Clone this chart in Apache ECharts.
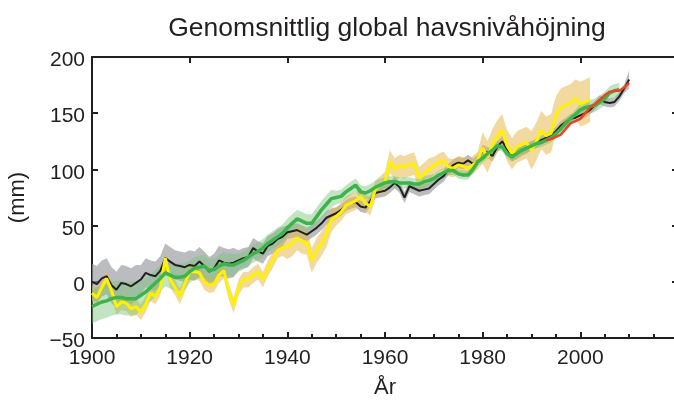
<!DOCTYPE html>
<html>
<head>
<meta charset="utf-8">
<script src="https://cdn.jsdelivr.net/npm/echarts@6/dist/echarts.min.js"></script>
<style>html,body{margin:0;padding:0;background:#fff}#c{width:674px;height:400px}</style>
</head>
<body>
<div id="c"></div>
<script>
// ---- Data (mm) ----
const blackStart = 1900;
const blackVals = [0,-2,3,5,-3,-7,-1,-2,-4,-1, 2,8,6,5,10,21,18,15,14,13,
  15,14,18,14,9,12,19,17,16,17, 19,21,22,30,27,25,32,34,38,40,
  44,45,46,44,42,45,48,52,57,59, 61,64,68,70,71,67,66,72,79,80,
  81,84,88,84,75,85,83,81,82,83, 87,91,94,100,104,106,105,108,105,108,
  117,115,112,120,125,118,112,114,117,119, 121,123,126,128,130,134,139,142,145,146,
  148,150,153,157,162,160,159,160,165,172, 180];
const blackErr = [16,13,13,9,6,5,5,5,5,4,4,8]; // half-width per decade

const yellowStart = 1900;
const yellowVals = [-10,-14,-5,3,-8,-22,-18,-19,-24,-22, -27,-20,-10,-13,-5,21,2,-5,-13,-2,
  9,9,8,0,-3,-2,6,10,-9,-21, -5,2,2,6,9,2,12,19,28,30,
  31,34,39,36,35,19,28,34,42,55, 58,62,68,70,72,76,70,67,82,86,
  88,107,100,103,102,104,105,92,96,100, 103,106,108,102,101,104,103,101,104,108,
  119,111,122,130,135,121,114,120,122,124, 117,125,135,130,132,148,155,157,159,163,
  158,160,162];
const yellowErr = [7,7,7,7,11,8,10,8,14,17,20];

const greenStart = 1900;
const greenVals = [-22,-20,-18,-17,-15,-14,-14,-15,-15,-15, -12,-9,-5,-1,3,8,6,4,4,5,
  9,12,13,14,10,11,14,16,15,15, 17,19,22,25,27,30,34,37,40,43,
  48,52,56,54,52,52,58,64,69,74, 75,76,80,83,86,80,79,81,84,86,
  88,89,89,88,88,88,87,87,89,90, 92,95,97,99,99,96,95,95,100,107,
  110,114,117,121,120,114,111,114,117,119, 121,123,124,126,128,132,136,141,145,149,
  153,155,156,157,160,163,168,170,171];
const greenErr = [15,12,10,8,8,6,5,4,4,4,6];

const redStart = 1993;
const redVals = [126,127,129,131,136,141,143,145,150,155,158,162,166,169,170,170,173,177];

const xTicks = [1900,1920,1940,1960,1980,2000];
const yTicks = [-50,0,50,100,150,200];

// ---- Build series data ----
function pairs(start, vals){ return vals.map((v,i)=>[start+i, v]); }
function errAt(err, y){ return err[Math.min(err.length-1, Math.floor((y-1900)/10))]; }
function bandData(start, vals, err){ return vals.map((v,i)=>{const y=start+i; const e=errAt(err,y); return [y, v-e, v+e];}); }

function band(name, start, vals, err, color){
  const d = bandData(start, vals, err);
  return {
    type:'custom', name:name, data:d, silent:true, clip:true,
    encode:{x:0, y:[1,2]},
    renderItem:function(params, api){
      if (params.dataIndex !== 0) return null;
      const up = d.map(p=>api.coord([p[0], p[2]]));
      const lo = d.map(p=>api.coord([p[0], p[1]])).reverse();
      return {type:'polygon', shape:{points:up.concat(lo)}, style:{fill:color, stroke:null}};
    }
  };
}
function line(name, start, vals, color, w){
  return {type:'line', name:name, data:pairs(start,vals), symbol:'none', lineStyle:{color:color, width:w}, itemStyle:{color:color}};
}

const FONT = 'Liberation Sans, Arial, Helvetica, sans-serif';
const TXT = '#231f20';
const axisLine = {show:true, onZero:false, lineStyle:{color:TXT, width:2}};

const chart = echarts.init(document.getElementById('c'));
chart.setOption({
  animation:false,
  title:{text:'Genomsnittlig global havsnivåhöjning', left:382, top:10, textAlign:'center',
    textStyle:{fontFamily:FONT, fontSize:26.5, fontWeight:'normal', color:TXT}},
  grid:{left:92, right:-4, top:57, bottom:62, containLabel:false, outerBoundsMode:'none'},
  xAxis:[
    {type:'value', min:1900, max:2020, interval:20, position:'bottom',
     axisLine:axisLine, axisTick:{inside:true, length:6, lineStyle:{color:TXT, width:2}},
     minorTick:{show:true, splitNumber:4, length:4, lineStyle:{color:TXT, width:2}},
     splitLine:{show:false},
     axisLabel:{margin:10, fontFamily:FONT, fontSize:21, color:TXT,
       formatter:v=> xTicks.indexOf(v)>=0 ? String(v) : ''},
     name:'År', nameLocation:'middle', nameGap:39,
     nameTextStyle:{fontFamily:FONT, fontSize:22, color:TXT}},
    {type:'value', min:1900, max:2020, interval:20, position:'top',
     axisLine:axisLine, axisTick:{inside:true, length:6, lineStyle:{color:TXT, width:2}},
     axisLabel:{show:false}, splitLine:{show:false}}
  ],
  yAxis:[
    {type:'value', min:-50, max:200, interval:50, position:'left',
     axisLine:axisLine, axisTick:{inside:true, length:6, lineStyle:{color:TXT, width:2}},
     splitLine:{show:false},
     axisLabel:{margin:7, fontFamily:FONT, fontSize:21, color:TXT,
       formatter:v=> yTicks.indexOf(v)>=0 ? '{a|' + String(v).replace('-','\u2212') + '}' : '',
       rich:{a:{fontFamily:FONT, fontSize:21, color:TXT, padding:[7,0,0,0]}}},
     name:'(mm)', nameLocation:'middle', nameGap:63, nameRotate:90,
     nameTextStyle:{fontFamily:FONT, fontSize:22, color:TXT}},
    {type:'value', min:-50, max:200, interval:50, position:'right',
     axisLine:axisLine, axisTick:{inside:true, length:6, lineStyle:{color:TXT, width:2}},
     axisLabel:{show:false}, splitLine:{show:false}}
  ],
  series:[
    band('grey', blackStart, blackVals, blackErr, 'rgba(150,152,156,0.65)'),
    line('Church & White', blackStart, blackVals, '#231f20', 2),
    band('tan', yellowStart, yellowVals, yellowErr, 'rgba(230,186,80,0.55)'),
    line('Jevrejeva', yellowStart, yellowVals, '#fff200', 3),
    band('lgreen', greenStart, greenVals, greenErr, 'rgba(120,196,120,0.45)'),
    line('Ray & Douglas', greenStart, greenVals, '#3cb44b', 3.5),
    line('Satellit', redStart, redVals, '#ef4123', 2.5)
  ]
});
</script>
</body>
</html>
